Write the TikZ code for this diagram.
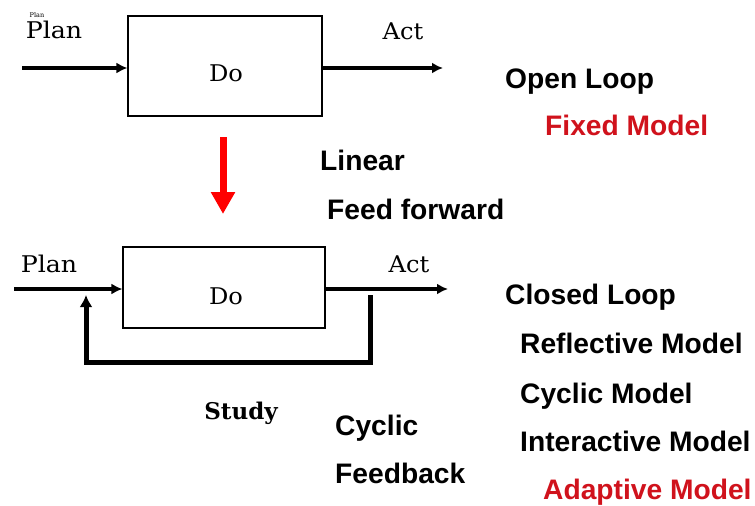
\documentclass[tikz,border=0pt]{standalone}
\usepackage{fontspec}
\newfontfamily\arialf{Liberation Sans}
\newfontfamily\serifd{DejaVu Serif}
\usetikzlibrary{arrows.meta}
\definecolor{modelred}{RGB}{208,18,28}
\begin{document}
\begin{tikzpicture}[x=1pt,y=-1pt,
  blk/.style={draw, line width=1.1pt, inner sep=0pt},
  slab/.style={anchor=base, inner sep=0pt, font=\serifd\fontsize{23}{27}\selectfont},
  sans/.style={anchor=base west, inner sep=0pt, font=\arialf\bfseries\fontsize{28.2}{32}\selectfont},
  redtxt/.style={sans, text=modelred},
  flow/.style={line width=3.8pt, -{Latex[length=11pt,width=11pt]}},
  fb/.style={line width=5pt, line join=miter, -{Latex[length=12pt,width=13pt]}},
  bigarrow/.style={red, line width=7pt, -{Triangle[length=22pt,width=23pt]}}
]
\useasboundingbox (0,0) rectangle (755,506);

% ---------- top (open loop) ----------
\node[blk, minimum width=194pt, minimum height=100pt] (box1) at (225,66) {};
\node[slab] (do1) at (226,81) {\scalebox{1.05}[1]{Do}};
\node[slab] (plan1) at (54,38) {\scalebox{1.1}[1]{Plan}};
\node[slab] (act1) at (403,39) {\scalebox{1.05}[1]{Act}};
\node[anchor=base, inner sep=0pt, font=\serifd\fontsize{6.5}{8}\selectfont] (tiny) at (37,17) {Plan};
\coordinate (pin1) at (22,68);
\coordinate (pout1) at (443,68);
\draw[flow] (pin1) -- (pin1 -| box1.west);
\draw[flow] (pin1 -| box1.east) -- (pout1);

\node[sans] (open) at (505,88) {Open Loop};
\node[redtxt] (fixed) at (545,135) {Fixed Model};

% ---------- red transition arrow ----------
\coordinate (ra1) at (223,137);
\coordinate (ra2) at (223,214);
\draw[bigarrow] (ra1) -- (ra2);
\node[sans] (linear) at (320,170) {Linear};
\node[sans] (ff) at (327,219) {Feed forward};

% ---------- bottom (closed loop) ----------
\node[blk, minimum width=202pt, minimum height=81pt] (box2) at (224,287.5) {};
\node[slab] (do2) at (226,304) {\scalebox{1.05}[1]{Do}};
\node[slab] (plan2) at (49,272) {\scalebox{1.1}[1]{Plan}};
\node[slab] (act2) at (409,272) {\scalebox{1.05}[1]{Act}};
\coordinate (pin2) at (14,289);
\coordinate (pout2) at (448,289);
\draw[flow] (pin2) -- (pin2 -| box2.west);
\draw[flow] (pin2 -| box2.east) -- (pout2);
\coordinate (fbs) at (370,295);
\coordinate (fbb) at (370,362);
\coordinate (fbe) at (86,295);
\draw[fb] (fbs) -- (fbb) -| (fbe);

\node[slab, font=\serifd\bfseries\fontsize{23}{27}\selectfont] (study) at (241,419) {Study};
\node[sans] (cyc) at (335,435) {Cyclic};
\node[sans] (fbk) at (335,483) {Feedback};

\node[sans] (closed) at (505,304) {Closed Loop};
\node[sans] (refl) at (520,353) {Reflective Model};
\node[sans] (cycm) at (520,403) {Cyclic Model};
\node[sans] (inter) at (520,451) {Interactive Model};
\node[redtxt] (adapt) at (543,499) {Adaptive Model};
\end{tikzpicture}
\end{document}
